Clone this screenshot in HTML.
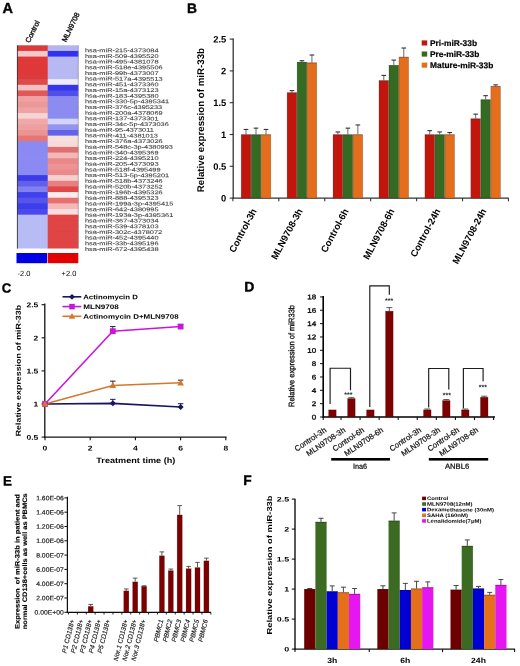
<!DOCTYPE html>
<html><head><meta charset="utf-8"><title>Figure</title>
<style>
html,body{margin:0;padding:0;background:#fff;}
body{width:520px;height:666px;overflow:hidden;}
svg{display:block;font-family:"Liberation Sans", sans-serif;text-rendering:geometricPrecision;}
</style></head>
<body>
<svg width="520" height="666" viewBox="0 0 520 666">
<defs><filter id="soft" x="0" y="0" width="520" height="666" filterUnits="userSpaceOnUse"><feGaussianBlur stdDeviation="0.45"/></filter></defs>
<rect x="0" y="0" width="520" height="666" fill="#fff"/>
<g filter="url(#soft)">
<text x="0" y="0" font-size="14.5" font-weight="bold" text-anchor="start" fill="#000" transform="translate(2.50 13.00) skewY(0.05)" stroke="#000" stroke-width="0.35">A</text>
<text x="0" y="0" font-size="7.3" text-anchor="start" fill="#111" transform="translate(29.60 43.30) rotate(-64) skewY(0.05)" stroke="#111" stroke-width="0.35">Control</text>
<text x="0" y="0" font-size="7.3" text-anchor="start" fill="#111" transform="translate(66.00 42.60) rotate(-64) skewY(0.05)" stroke="#111" stroke-width="0.35">MLN9708</text>
<rect x="17.00" y="45.30" width="31.30" height="6.34" fill="#dd3a3a"/>
<rect x="47.70" y="45.30" width="30.80" height="6.34" fill="#b4b4f0"/>
<rect x="17.00" y="50.94" width="31.30" height="6.34" fill="#f4c8c8"/>
<rect x="47.70" y="50.94" width="30.80" height="6.34" fill="#3030ee"/>
<rect x="17.00" y="56.59" width="31.30" height="6.34" fill="#e03838"/>
<rect x="47.70" y="56.59" width="30.80" height="6.34" fill="#b8b8f2"/>
<rect x="17.00" y="62.23" width="31.30" height="6.34" fill="#e03838"/>
<rect x="47.70" y="62.23" width="30.80" height="6.34" fill="#b8b8f2"/>
<rect x="17.00" y="67.88" width="31.30" height="6.34" fill="#e03838"/>
<rect x="47.70" y="67.88" width="30.80" height="6.34" fill="#b8b8f2"/>
<rect x="17.00" y="73.52" width="31.30" height="6.34" fill="#dc3a3a"/>
<rect x="47.70" y="73.52" width="30.80" height="6.34" fill="#b8b8f2"/>
<rect x="17.00" y="79.17" width="31.30" height="6.34" fill="#de4848"/>
<rect x="47.70" y="79.17" width="30.80" height="6.34" fill="#ececfc"/>
<rect x="17.00" y="84.81" width="31.30" height="6.34" fill="#f2c0c0"/>
<rect x="47.70" y="84.81" width="30.80" height="6.34" fill="#3434ee"/>
<rect x="17.00" y="90.46" width="31.30" height="6.34" fill="#e05858"/>
<rect x="47.70" y="90.46" width="30.80" height="6.34" fill="#5050ea"/>
<rect x="17.00" y="96.10" width="31.30" height="6.34" fill="#eea2a2"/>
<rect x="47.70" y="96.10" width="30.80" height="6.34" fill="#8c8cf0"/>
<rect x="17.00" y="101.75" width="31.30" height="6.34" fill="#eb9898"/>
<rect x="47.70" y="101.75" width="30.80" height="6.34" fill="#8c8cf0"/>
<rect x="17.00" y="107.39" width="31.30" height="6.34" fill="#eea4a4"/>
<rect x="47.70" y="107.39" width="30.80" height="6.34" fill="#8c8cf0"/>
<rect x="17.00" y="113.04" width="31.30" height="6.34" fill="#f6d4d4"/>
<rect x="47.70" y="113.04" width="30.80" height="6.34" fill="#8c8cf0"/>
<rect x="17.00" y="118.68" width="31.30" height="6.34" fill="#f0a8a8"/>
<rect x="47.70" y="118.68" width="30.80" height="6.34" fill="#d4d4f8"/>
<rect x="17.00" y="124.33" width="31.30" height="6.34" fill="#eea0a0"/>
<rect x="47.70" y="124.33" width="30.80" height="6.34" fill="#9494f0"/>
<rect x="17.00" y="129.97" width="31.30" height="6.34" fill="#ec9494"/>
<rect x="47.70" y="129.97" width="30.80" height="6.34" fill="#6464ea"/>
<rect x="17.00" y="135.62" width="31.30" height="6.34" fill="#e87474"/>
<rect x="47.70" y="135.62" width="30.80" height="6.34" fill="#f8e0dc"/>
<rect x="17.00" y="141.26" width="31.30" height="6.34" fill="#8a8af2"/>
<rect x="47.70" y="141.26" width="30.80" height="6.34" fill="#f6dcd8"/>
<rect x="17.00" y="146.91" width="31.30" height="6.34" fill="#8a8af2"/>
<rect x="47.70" y="146.91" width="30.80" height="6.34" fill="#e07070"/>
<rect x="17.00" y="152.56" width="31.30" height="6.34" fill="#8a8af2"/>
<rect x="47.70" y="152.56" width="30.80" height="6.34" fill="#f2b8b8"/>
<rect x="17.00" y="158.20" width="31.30" height="6.34" fill="#8a8af2"/>
<rect x="47.70" y="158.20" width="30.80" height="6.34" fill="#ea8888"/>
<rect x="17.00" y="163.84" width="31.30" height="6.34" fill="#8a8af2"/>
<rect x="47.70" y="163.84" width="30.80" height="6.34" fill="#ec9494"/>
<rect x="17.00" y="169.49" width="31.30" height="6.34" fill="#8a8af2"/>
<rect x="47.70" y="169.49" width="30.80" height="6.34" fill="#ea8a8a"/>
<rect x="17.00" y="175.13" width="31.30" height="6.34" fill="#3a3ae8"/>
<rect x="47.70" y="175.13" width="30.80" height="6.34" fill="#f6d0d0"/>
<rect x="17.00" y="180.78" width="31.30" height="6.34" fill="#6060ec"/>
<rect x="47.70" y="180.78" width="30.80" height="6.34" fill="#e88080"/>
<rect x="17.00" y="186.43" width="31.30" height="6.34" fill="#8080f0"/>
<rect x="47.70" y="186.43" width="30.80" height="6.34" fill="#e04848"/>
<rect x="17.00" y="192.07" width="31.30" height="6.34" fill="#4040ec"/>
<rect x="47.70" y="192.07" width="30.80" height="6.34" fill="#fcecec"/>
<rect x="17.00" y="197.71" width="31.30" height="6.34" fill="#5454ec"/>
<rect x="47.70" y="197.71" width="30.80" height="6.34" fill="#e87070"/>
<rect x="17.00" y="203.36" width="31.30" height="6.34" fill="#3c3cec"/>
<rect x="47.70" y="203.36" width="30.80" height="6.34" fill="#f4b8b8"/>
<rect x="17.00" y="209.00" width="31.30" height="6.34" fill="#4848ec"/>
<rect x="47.70" y="209.00" width="30.80" height="6.34" fill="#f8dede"/>
<rect x="17.00" y="214.65" width="31.30" height="6.34" fill="#b8bcf4"/>
<rect x="47.70" y="214.65" width="30.80" height="6.34" fill="#e04444"/>
<rect x="17.00" y="220.29" width="31.30" height="6.34" fill="#b8bcf4"/>
<rect x="47.70" y="220.29" width="30.80" height="6.34" fill="#e04444"/>
<rect x="17.00" y="225.94" width="31.30" height="6.34" fill="#b8bcf4"/>
<rect x="47.70" y="225.94" width="30.80" height="6.34" fill="#e04444"/>
<rect x="17.00" y="231.58" width="31.30" height="6.34" fill="#b8bcf4"/>
<rect x="47.70" y="231.58" width="30.80" height="6.34" fill="#e04444"/>
<rect x="17.00" y="237.23" width="31.30" height="6.34" fill="#b8bcf4"/>
<rect x="47.70" y="237.23" width="30.80" height="6.34" fill="#e04444"/>
<rect x="17.00" y="242.88" width="31.30" height="5.64" fill="#b8bcf4"/>
<rect x="47.70" y="242.88" width="30.80" height="5.64" fill="#e04444"/>
<line x1="17.40" y1="45.30" x2="17.40" y2="248.52" stroke="#333" stroke-width="0.9"/>
<line x1="78.20" y1="45.30" x2="78.20" y2="248.52" stroke="#888" stroke-width="0.6"/>
<text x="0" y="0" font-size="5.4" text-anchor="start" fill="#383838" transform="translate(85.00 52.20) skewY(0.05) scale(1.370 1)" stroke="#383838" stroke-width="0.08">hsa-miR-215-4373084</text>
<text x="0" y="0" font-size="5.4" text-anchor="start" fill="#383838" transform="translate(85.00 57.88) skewY(0.05) scale(1.370 1)" stroke="#383838" stroke-width="0.08">hsa-miR-509-4395520</text>
<text x="0" y="0" font-size="5.4" text-anchor="start" fill="#383838" transform="translate(85.00 63.55) skewY(0.05) scale(1.370 1)" stroke="#383838" stroke-width="0.08">hsa-miR-495-4381078</text>
<text x="0" y="0" font-size="5.4" text-anchor="start" fill="#383838" transform="translate(85.00 69.23) skewY(0.05) scale(1.370 1)" stroke="#383838" stroke-width="0.08">hsa-miR-518e-4395506</text>
<text x="0" y="0" font-size="5.4" text-anchor="start" fill="#383838" transform="translate(85.00 74.91) skewY(0.05) scale(1.370 1)" stroke="#383838" stroke-width="0.08">hsa-miR-99b-4373007</text>
<text x="0" y="0" font-size="5.4" text-anchor="start" fill="#383838" transform="translate(85.00 80.59) skewY(0.05) scale(1.370 1)" stroke="#383838" stroke-width="0.08">hsa-miR-517a-4395513</text>
<text x="0" y="0" font-size="5.4" text-anchor="start" fill="#383838" transform="translate(85.00 86.26) skewY(0.05) scale(1.370 1)" stroke="#383838" stroke-width="0.08">hsa-miR-451-4373360</text>
<text x="0" y="0" font-size="5.4" text-anchor="start" fill="#383838" transform="translate(85.00 91.94) skewY(0.05) scale(1.370 1)" stroke="#383838" stroke-width="0.08">hsa-miR-15a-4373123</text>
<text x="0" y="0" font-size="5.4" text-anchor="start" fill="#383838" transform="translate(85.00 97.62) skewY(0.05) scale(1.370 1)" stroke="#383838" stroke-width="0.08">hsa-miR-183-4395380</text>
<text x="0" y="0" font-size="5.4" text-anchor="start" fill="#383838" transform="translate(85.00 103.29) skewY(0.05) scale(1.370 1)" stroke="#383838" stroke-width="0.08">hsa-miR-330-5p-4395341</text>
<text x="0" y="0" font-size="5.4" text-anchor="start" fill="#383838" transform="translate(85.00 108.97) skewY(0.05) scale(1.370 1)" stroke="#383838" stroke-width="0.08">hsa-miR-376c-4395233</text>
<text x="0" y="0" font-size="5.4" text-anchor="start" fill="#383838" transform="translate(85.00 114.65) skewY(0.05) scale(1.370 1)" stroke="#383838" stroke-width="0.08">hsa-miR-200a-4378069</text>
<text x="0" y="0" font-size="5.4" text-anchor="start" fill="#383838" transform="translate(85.00 120.32) skewY(0.05) scale(1.370 1)" stroke="#383838" stroke-width="0.08">hsa-miR-137-4373301</text>
<text x="0" y="0" font-size="5.4" text-anchor="start" fill="#383838" transform="translate(85.00 126.00) skewY(0.05) scale(1.370 1)" stroke="#383838" stroke-width="0.08">hsa-miR-34c-5p-4373036</text>
<text x="0" y="0" font-size="5.4" text-anchor="start" fill="#383838" transform="translate(85.00 131.68) skewY(0.05) scale(1.370 1)" stroke="#383838" stroke-width="0.08">hsa-miR-95-4373011</text>
<text x="0" y="0" font-size="5.4" text-anchor="start" fill="#383838" transform="translate(85.00 137.36) skewY(0.05) scale(1.370 1)" stroke="#383838" stroke-width="0.08">hsa-miR-411-4381013</text>
<text x="0" y="0" font-size="5.4" text-anchor="start" fill="#383838" transform="translate(85.00 143.03) skewY(0.05) scale(1.370 1)" stroke="#383838" stroke-width="0.08">hsa-miR-376a-4373026</text>
<text x="0" y="0" font-size="5.4" text-anchor="start" fill="#383838" transform="translate(85.00 148.71) skewY(0.05) scale(1.370 1)" stroke="#383838" stroke-width="0.08">hsa-miR-548c-3p-4380993</text>
<text x="0" y="0" font-size="5.4" text-anchor="start" fill="#383838" transform="translate(85.00 154.39) skewY(0.05) scale(1.370 1)" stroke="#383838" stroke-width="0.08">hsa-miR-340-4395369</text>
<text x="0" y="0" font-size="5.4" text-anchor="start" fill="#383838" transform="translate(85.00 160.06) skewY(0.05) scale(1.370 1)" stroke="#383838" stroke-width="0.08">hsa-miR-224-4395210</text>
<text x="0" y="0" font-size="5.4" text-anchor="start" fill="#383838" transform="translate(85.00 165.74) skewY(0.05) scale(1.370 1)" stroke="#383838" stroke-width="0.08">hsa-miR-205-4373093</text>
<text x="0" y="0" font-size="5.4" text-anchor="start" fill="#383838" transform="translate(85.00 171.42) skewY(0.05) scale(1.370 1)" stroke="#383838" stroke-width="0.08">hsa-miR-518f-4395499</text>
<text x="0" y="0" font-size="5.4" text-anchor="start" fill="#383838" transform="translate(85.00 177.09) skewY(0.05) scale(1.370 1)" stroke="#383838" stroke-width="0.08">hsa-miR-513-5p-4395201</text>
<text x="0" y="0" font-size="5.4" text-anchor="start" fill="#383838" transform="translate(85.00 182.77) skewY(0.05) scale(1.370 1)" stroke="#383838" stroke-width="0.08">hsa-miR-518b-4373246</text>
<text x="0" y="0" font-size="5.4" text-anchor="start" fill="#383838" transform="translate(85.00 188.45) skewY(0.05) scale(1.370 1)" stroke="#383838" stroke-width="0.08">hsa-miR-520b-4373252</text>
<text x="0" y="0" font-size="5.4" text-anchor="start" fill="#383838" transform="translate(85.00 194.12) skewY(0.05) scale(1.370 1)" stroke="#383838" stroke-width="0.08">hsa-miR-196b-4395326</text>
<text x="0" y="0" font-size="5.4" text-anchor="start" fill="#383838" transform="translate(85.00 199.80) skewY(0.05) scale(1.370 1)" stroke="#383838" stroke-width="0.08">hsa-miR-888-4395323</text>
<text x="0" y="0" font-size="5.4" text-anchor="start" fill="#383838" transform="translate(85.00 205.48) skewY(0.05) scale(1.370 1)" stroke="#383838" stroke-width="0.08">hsa-miR-199a-3p-4395415</text>
<text x="0" y="0" font-size="5.4" text-anchor="start" fill="#383838" transform="translate(85.00 211.16) skewY(0.05) scale(1.370 1)" stroke="#383838" stroke-width="0.08">hsa-miR-642-4380995</text>
<text x="0" y="0" font-size="5.4" text-anchor="start" fill="#383838" transform="translate(85.00 216.83) skewY(0.05) scale(1.370 1)" stroke="#383838" stroke-width="0.08">hsa-miR-193a-3p-4395361</text>
<text x="0" y="0" font-size="5.4" text-anchor="start" fill="#383838" transform="translate(85.00 222.51) skewY(0.05) scale(1.370 1)" stroke="#383838" stroke-width="0.08">hsa-miR-367-4373034</text>
<text x="0" y="0" font-size="5.4" text-anchor="start" fill="#383838" transform="translate(85.00 228.19) skewY(0.05) scale(1.370 1)" stroke="#383838" stroke-width="0.08">hsa-miR-539-4378103</text>
<text x="0" y="0" font-size="5.4" text-anchor="start" fill="#383838" transform="translate(85.00 233.86) skewY(0.05) scale(1.370 1)" stroke="#383838" stroke-width="0.08">hsa-miR-302c-4378072</text>
<text x="0" y="0" font-size="5.4" text-anchor="start" fill="#383838" transform="translate(85.00 239.54) skewY(0.05) scale(1.370 1)" stroke="#383838" stroke-width="0.08">hsa-miR-452-4395440</text>
<text x="0" y="0" font-size="5.4" text-anchor="start" fill="#383838" transform="translate(85.00 245.22) skewY(0.05) scale(1.370 1)" stroke="#383838" stroke-width="0.08">hsa-miR-33b-4395196</text>
<text x="0" y="0" font-size="5.4" text-anchor="start" fill="#383838" transform="translate(85.00 250.89) skewY(0.05) scale(1.370 1)" stroke="#383838" stroke-width="0.08">hsa-miR-672-4395438</text>
<rect x="16.50" y="253.00" width="30.60" height="10.20" fill="#0000e2"/>
<rect x="47.70" y="253.00" width="30.60" height="10.20" fill="#e20000"/>
<text x="0" y="0" font-size="7.5" text-anchor="start" fill="#000" transform="translate(17.50 275.90) skewY(0.05)">-2.0</text>
<text x="0" y="0" font-size="7.5" text-anchor="start" fill="#000" transform="translate(61.50 275.90) skewY(0.05)">+2.0</text>
<text x="0" y="0" font-size="13.8" font-weight="bold" text-anchor="start" fill="#000" transform="translate(187.00 13.00) skewY(0.05)" stroke="#000" stroke-width="0.35">B</text>
<line x1="233.20" y1="38.50" x2="233.20" y2="198.70" stroke="#333" stroke-width="1.3"/>
<line x1="232.60" y1="198.10" x2="508.80" y2="198.10" stroke="#333" stroke-width="1.3"/>
<line x1="229.70" y1="198.10" x2="233.20" y2="198.10" stroke="#333" stroke-width="1.1"/>
<text x="0" y="0" font-size="9.4" font-weight="bold" text-anchor="end" fill="#000" transform="translate(226.30 201.50) skewY(0.05)">0</text>
<line x1="229.70" y1="166.30" x2="233.20" y2="166.30" stroke="#333" stroke-width="1.1"/>
<text x="0" y="0" font-size="9.4" font-weight="bold" text-anchor="end" fill="#000" transform="translate(226.30 169.70) skewY(0.05)">0.5</text>
<line x1="229.70" y1="134.50" x2="233.20" y2="134.50" stroke="#333" stroke-width="1.1"/>
<text x="0" y="0" font-size="9.4" font-weight="bold" text-anchor="end" fill="#000" transform="translate(226.30 137.90) skewY(0.05)">1</text>
<line x1="229.70" y1="102.70" x2="233.20" y2="102.70" stroke="#333" stroke-width="1.1"/>
<text x="0" y="0" font-size="9.4" font-weight="bold" text-anchor="end" fill="#000" transform="translate(226.30 106.10) skewY(0.05)">1.5</text>
<line x1="229.70" y1="70.90" x2="233.20" y2="70.90" stroke="#333" stroke-width="1.1"/>
<text x="0" y="0" font-size="9.4" font-weight="bold" text-anchor="end" fill="#000" transform="translate(226.30 74.30) skewY(0.05)">2</text>
<line x1="229.70" y1="39.10" x2="233.20" y2="39.10" stroke="#333" stroke-width="1.1"/>
<text x="0" y="0" font-size="9.4" font-weight="bold" text-anchor="end" fill="#000" transform="translate(226.30 42.50) skewY(0.05)">2.5</text>
<line x1="232.90" y1="198.10" x2="232.90" y2="201.30" stroke="#333" stroke-width="1.1"/>
<line x1="278.83" y1="198.10" x2="278.83" y2="201.30" stroke="#333" stroke-width="1.1"/>
<line x1="324.76" y1="198.10" x2="324.76" y2="201.30" stroke="#333" stroke-width="1.1"/>
<line x1="370.69" y1="198.10" x2="370.69" y2="201.30" stroke="#333" stroke-width="1.1"/>
<line x1="416.62" y1="198.10" x2="416.62" y2="201.30" stroke="#333" stroke-width="1.1"/>
<line x1="462.55" y1="198.10" x2="462.55" y2="201.30" stroke="#333" stroke-width="1.1"/>
<line x1="508.48" y1="198.10" x2="508.48" y2="201.30" stroke="#333" stroke-width="1.1"/>
<text x="0" y="0" font-size="9.72" font-weight="bold" text-anchor="middle" fill="#000" transform="translate(204.00 120.10) rotate(-90) skewY(0.05)">Relative expression of miR-33b</text>
<rect x="241.20" y="134.70" width="9.60" height="63.40" fill="#c2160f" stroke="#000" stroke-opacity="0.3" stroke-width="0.6"/>
<line x1="241.00" y1="134.80" x2="251.00" y2="134.80" stroke="#000" stroke-width="0.7" stroke-opacity="0.3"/>
<line x1="246.00" y1="134.50" x2="246.00" y2="129.41" stroke="#444" stroke-width="0.8"/>
<line x1="243.70" y1="129.41" x2="248.30" y2="129.41" stroke="#222" stroke-width="1.0"/>
<rect x="251.20" y="134.70" width="9.60" height="63.40" fill="#346a24" stroke="#000" stroke-opacity="0.3" stroke-width="0.6"/>
<line x1="251.00" y1="134.80" x2="261.00" y2="134.80" stroke="#000" stroke-width="0.7" stroke-opacity="0.3"/>
<line x1="256.00" y1="134.50" x2="256.00" y2="128.14" stroke="#444" stroke-width="0.8"/>
<line x1="253.70" y1="128.14" x2="258.30" y2="128.14" stroke="#222" stroke-width="1.0"/>
<rect x="261.20" y="134.70" width="9.60" height="63.40" fill="#e46e1c" stroke="#000" stroke-opacity="0.3" stroke-width="0.6"/>
<line x1="261.00" y1="134.80" x2="271.00" y2="134.80" stroke="#000" stroke-width="0.7" stroke-opacity="0.3"/>
<line x1="266.00" y1="134.50" x2="266.00" y2="129.41" stroke="#444" stroke-width="0.8"/>
<line x1="263.70" y1="129.41" x2="268.30" y2="129.41" stroke="#222" stroke-width="1.0"/>
<rect x="287.13" y="92.72" width="9.60" height="105.38" fill="#c2160f" stroke="#000" stroke-opacity="0.3" stroke-width="0.6"/>
<line x1="286.93" y1="92.82" x2="296.93" y2="92.82" stroke="#000" stroke-width="0.7" stroke-opacity="0.3"/>
<line x1="291.93" y1="92.52" x2="291.93" y2="90.62" stroke="#444" stroke-width="0.8"/>
<line x1="289.63" y1="90.62" x2="294.23" y2="90.62" stroke="#222" stroke-width="1.0"/>
<rect x="297.13" y="62.20" width="9.60" height="135.90" fill="#346a24" stroke="#000" stroke-opacity="0.3" stroke-width="0.6"/>
<line x1="296.93" y1="62.30" x2="306.93" y2="62.30" stroke="#000" stroke-width="0.7" stroke-opacity="0.3"/>
<line x1="301.93" y1="62.00" x2="301.93" y2="60.72" stroke="#444" stroke-width="0.8"/>
<line x1="299.63" y1="60.72" x2="304.23" y2="60.72" stroke="#222" stroke-width="1.0"/>
<rect x="307.13" y="62.83" width="9.60" height="135.27" fill="#e46e1c" stroke="#000" stroke-opacity="0.3" stroke-width="0.6"/>
<line x1="306.93" y1="62.93" x2="316.93" y2="62.93" stroke="#000" stroke-width="0.7" stroke-opacity="0.3"/>
<line x1="311.93" y1="62.63" x2="311.93" y2="55.00" stroke="#444" stroke-width="0.8"/>
<line x1="309.63" y1="55.00" x2="314.23" y2="55.00" stroke="#222" stroke-width="1.0"/>
<rect x="333.06" y="134.70" width="9.60" height="63.40" fill="#c2160f" stroke="#000" stroke-opacity="0.3" stroke-width="0.6"/>
<line x1="332.86" y1="134.80" x2="342.86" y2="134.80" stroke="#000" stroke-width="0.7" stroke-opacity="0.3"/>
<line x1="337.86" y1="134.50" x2="337.86" y2="131.96" stroke="#444" stroke-width="0.8"/>
<line x1="335.56" y1="131.96" x2="340.16" y2="131.96" stroke="#222" stroke-width="1.0"/>
<rect x="343.06" y="134.70" width="9.60" height="63.40" fill="#346a24" stroke="#000" stroke-opacity="0.3" stroke-width="0.6"/>
<line x1="342.86" y1="134.80" x2="352.86" y2="134.80" stroke="#000" stroke-width="0.7" stroke-opacity="0.3"/>
<line x1="347.86" y1="134.50" x2="347.86" y2="128.14" stroke="#444" stroke-width="0.8"/>
<line x1="345.56" y1="128.14" x2="350.16" y2="128.14" stroke="#222" stroke-width="1.0"/>
<rect x="353.06" y="134.70" width="9.60" height="63.40" fill="#e46e1c" stroke="#000" stroke-opacity="0.3" stroke-width="0.6"/>
<line x1="352.86" y1="134.80" x2="362.86" y2="134.80" stroke="#000" stroke-width="0.7" stroke-opacity="0.3"/>
<line x1="357.86" y1="134.50" x2="357.86" y2="124.96" stroke="#444" stroke-width="0.8"/>
<line x1="355.56" y1="124.96" x2="360.16" y2="124.96" stroke="#222" stroke-width="1.0"/>
<rect x="378.99" y="80.64" width="9.60" height="117.46" fill="#c2160f" stroke="#000" stroke-opacity="0.3" stroke-width="0.6"/>
<line x1="378.79" y1="80.74" x2="388.79" y2="80.74" stroke="#000" stroke-width="0.7" stroke-opacity="0.3"/>
<line x1="383.79" y1="80.44" x2="383.79" y2="75.35" stroke="#444" stroke-width="0.8"/>
<line x1="381.49" y1="75.35" x2="386.09" y2="75.35" stroke="#222" stroke-width="1.0"/>
<rect x="388.99" y="65.38" width="9.60" height="132.72" fill="#346a24" stroke="#000" stroke-opacity="0.3" stroke-width="0.6"/>
<line x1="388.79" y1="65.48" x2="398.79" y2="65.48" stroke="#000" stroke-width="0.7" stroke-opacity="0.3"/>
<line x1="393.79" y1="65.18" x2="393.79" y2="60.09" stroke="#444" stroke-width="0.8"/>
<line x1="391.49" y1="60.09" x2="396.09" y2="60.09" stroke="#222" stroke-width="1.0"/>
<rect x="398.99" y="57.11" width="9.60" height="140.99" fill="#e46e1c" stroke="#000" stroke-opacity="0.3" stroke-width="0.6"/>
<line x1="398.79" y1="57.21" x2="408.79" y2="57.21" stroke="#000" stroke-width="0.7" stroke-opacity="0.3"/>
<line x1="403.79" y1="56.91" x2="403.79" y2="48.00" stroke="#444" stroke-width="0.8"/>
<line x1="401.49" y1="48.00" x2="406.09" y2="48.00" stroke="#222" stroke-width="1.0"/>
<rect x="424.92" y="134.70" width="9.60" height="63.40" fill="#c2160f" stroke="#000" stroke-opacity="0.3" stroke-width="0.6"/>
<line x1="424.72" y1="134.80" x2="434.72" y2="134.80" stroke="#000" stroke-width="0.7" stroke-opacity="0.3"/>
<line x1="429.72" y1="134.50" x2="429.72" y2="130.68" stroke="#444" stroke-width="0.8"/>
<line x1="427.42" y1="130.68" x2="432.02" y2="130.68" stroke="#222" stroke-width="1.0"/>
<rect x="434.92" y="134.70" width="9.60" height="63.40" fill="#346a24" stroke="#000" stroke-opacity="0.3" stroke-width="0.6"/>
<line x1="434.72" y1="134.80" x2="444.72" y2="134.80" stroke="#000" stroke-width="0.7" stroke-opacity="0.3"/>
<line x1="439.72" y1="134.50" x2="439.72" y2="131.96" stroke="#444" stroke-width="0.8"/>
<line x1="437.42" y1="131.96" x2="442.02" y2="131.96" stroke="#222" stroke-width="1.0"/>
<rect x="444.92" y="134.70" width="9.60" height="63.40" fill="#e46e1c" stroke="#000" stroke-opacity="0.3" stroke-width="0.6"/>
<line x1="444.72" y1="134.80" x2="454.72" y2="134.80" stroke="#000" stroke-width="0.7" stroke-opacity="0.3"/>
<line x1="449.72" y1="134.50" x2="449.72" y2="132.59" stroke="#444" stroke-width="0.8"/>
<line x1="447.42" y1="132.59" x2="452.02" y2="132.59" stroke="#222" stroke-width="1.0"/>
<rect x="470.85" y="118.80" width="9.60" height="79.30" fill="#c2160f" stroke="#000" stroke-opacity="0.3" stroke-width="0.6"/>
<line x1="470.65" y1="118.90" x2="480.65" y2="118.90" stroke="#000" stroke-width="0.7" stroke-opacity="0.3"/>
<line x1="475.65" y1="118.60" x2="475.65" y2="114.15" stroke="#444" stroke-width="0.8"/>
<line x1="473.35" y1="114.15" x2="477.95" y2="114.15" stroke="#222" stroke-width="1.0"/>
<rect x="480.85" y="99.72" width="9.60" height="98.38" fill="#346a24" stroke="#000" stroke-opacity="0.3" stroke-width="0.6"/>
<line x1="480.65" y1="99.82" x2="490.65" y2="99.82" stroke="#000" stroke-width="0.7" stroke-opacity="0.3"/>
<line x1="485.65" y1="99.52" x2="485.65" y2="95.70" stroke="#444" stroke-width="0.8"/>
<line x1="483.35" y1="95.70" x2="487.95" y2="95.70" stroke="#222" stroke-width="1.0"/>
<rect x="490.85" y="86.36" width="9.60" height="111.74" fill="#e46e1c" stroke="#000" stroke-opacity="0.3" stroke-width="0.6"/>
<line x1="490.65" y1="86.46" x2="500.65" y2="86.46" stroke="#000" stroke-width="0.7" stroke-opacity="0.3"/>
<line x1="495.65" y1="86.16" x2="495.65" y2="84.89" stroke="#444" stroke-width="0.8"/>
<line x1="493.35" y1="84.89" x2="497.95" y2="84.89" stroke="#222" stroke-width="1.0"/>
<text x="0" y="0" font-size="9.5" font-weight="bold" text-anchor="end" fill="#000" transform="translate(257.00 210.80) rotate(-62) skewY(0.05)">Control-3h</text>
<text x="0" y="0" font-size="9.5" font-weight="bold" text-anchor="end" fill="#000" transform="translate(302.93 210.80) rotate(-62) skewY(0.05)">MLN9708-3h</text>
<text x="0" y="0" font-size="9.5" font-weight="bold" text-anchor="end" fill="#000" transform="translate(348.86 210.80) rotate(-62) skewY(0.05)">Control-6h</text>
<text x="0" y="0" font-size="9.5" font-weight="bold" text-anchor="end" fill="#000" transform="translate(394.79 210.80) rotate(-62) skewY(0.05)">MLN9708-6h</text>
<text x="0" y="0" font-size="9.5" font-weight="bold" text-anchor="end" fill="#000" transform="translate(440.72 210.80) rotate(-62) skewY(0.05)">Control-24h</text>
<text x="0" y="0" font-size="9.5" font-weight="bold" text-anchor="end" fill="#000" transform="translate(486.65 210.80) rotate(-62) skewY(0.05)">MLN9708-24h</text>
<rect x="421.70" y="40.40" width="5.50" height="5.10" fill="#c2160f"/>
<text x="0" y="0" font-size="8.4" font-weight="bold" text-anchor="start" fill="#000" transform="translate(430.00 45.90) skewY(0.05)" stroke="#000" stroke-width="0.2">Pri-miR-33b</text>
<rect x="421.70" y="51.50" width="5.50" height="5.10" fill="#346a24"/>
<text x="0" y="0" font-size="8.4" font-weight="bold" text-anchor="start" fill="#000" transform="translate(430.00 57.00) skewY(0.05)" stroke="#000" stroke-width="0.2">Pre-miR-33b</text>
<rect x="421.70" y="62.60" width="5.50" height="5.10" fill="#e46e1c"/>
<text x="0" y="0" font-size="8.4" font-weight="bold" text-anchor="start" fill="#000" transform="translate(430.00 68.10) skewY(0.05)" stroke="#000" stroke-width="0.2">Mature-miR-33b</text>
<text x="0" y="0" font-size="13.2" font-weight="bold" text-anchor="start" fill="#000" transform="translate(1.80 292.40) skewY(0.05)" stroke="#000" stroke-width="0.35">C</text>
<line x1="44.80" y1="303.50" x2="44.80" y2="437.70" stroke="#111" stroke-width="1.3"/>
<line x1="44.20" y1="437.10" x2="226.50" y2="437.10" stroke="#111" stroke-width="1.3"/>
<line x1="41.60" y1="437.10" x2="44.80" y2="437.10" stroke="#111" stroke-width="1.1"/>
<text x="0" y="0" font-size="7.0" font-weight="bold" text-anchor="end" fill="#000" transform="translate(38.30 439.70) skewY(0.05) scale(1.220 1)">0.5</text>
<line x1="41.60" y1="404.00" x2="44.80" y2="404.00" stroke="#111" stroke-width="1.1"/>
<text x="0" y="0" font-size="7.0" font-weight="bold" text-anchor="end" fill="#000" transform="translate(38.30 406.60) skewY(0.05) scale(1.220 1)">1</text>
<line x1="41.60" y1="370.90" x2="44.80" y2="370.90" stroke="#111" stroke-width="1.1"/>
<text x="0" y="0" font-size="7.0" font-weight="bold" text-anchor="end" fill="#000" transform="translate(38.30 373.50) skewY(0.05) scale(1.220 1)">1.5</text>
<line x1="41.60" y1="337.80" x2="44.80" y2="337.80" stroke="#111" stroke-width="1.1"/>
<text x="0" y="0" font-size="7.0" font-weight="bold" text-anchor="end" fill="#000" transform="translate(38.30 340.40) skewY(0.05) scale(1.220 1)">2</text>
<line x1="41.60" y1="304.70" x2="44.80" y2="304.70" stroke="#111" stroke-width="1.1"/>
<text x="0" y="0" font-size="7.0" font-weight="bold" text-anchor="end" fill="#000" transform="translate(38.30 307.30) skewY(0.05) scale(1.220 1)">2.5</text>
<line x1="45.00" y1="437.10" x2="45.00" y2="440.30" stroke="#111" stroke-width="1.1"/>
<text x="0" y="0" font-size="7.0" font-weight="bold" text-anchor="middle" fill="#000" transform="translate(45.00 450.60) skewY(0.05) scale(1.220 1)">0</text>
<line x1="90.20" y1="437.10" x2="90.20" y2="440.30" stroke="#111" stroke-width="1.1"/>
<text x="0" y="0" font-size="7.0" font-weight="bold" text-anchor="middle" fill="#000" transform="translate(90.20 450.60) skewY(0.05) scale(1.220 1)">2</text>
<line x1="135.40" y1="437.10" x2="135.40" y2="440.30" stroke="#111" stroke-width="1.1"/>
<text x="0" y="0" font-size="7.0" font-weight="bold" text-anchor="middle" fill="#000" transform="translate(135.40 450.60) skewY(0.05) scale(1.220 1)">4</text>
<line x1="180.60" y1="437.10" x2="180.60" y2="440.30" stroke="#111" stroke-width="1.1"/>
<text x="0" y="0" font-size="7.0" font-weight="bold" text-anchor="middle" fill="#000" transform="translate(180.60 450.60) skewY(0.05) scale(1.220 1)">6</text>
<line x1="225.80" y1="437.10" x2="225.80" y2="440.30" stroke="#111" stroke-width="1.1"/>
<text x="0" y="0" font-size="7.0" font-weight="bold" text-anchor="middle" fill="#000" transform="translate(225.80 450.60) skewY(0.05) scale(1.220 1)">8</text>
<text x="0" y="0" font-size="7.8" font-weight="bold" text-anchor="middle" fill="#000" transform="translate(135.80 463.00) skewY(0.05) scale(1.170 1)">Treatment time (h)</text>
<text x="0" y="0" font-size="7.2" font-weight="bold" text-anchor="middle" fill="#000" transform="translate(20.70 370.60) rotate(-90) skewY(0.05) scale(1.232 1)">Relative expression of miR-33b</text>
<path d="M45.00 404.00 L112.80 403.34 L180.60 406.98" fill="none" stroke="#16165e" stroke-width="1.6"/>
<line x1="112.80" y1="399.37" x2="112.80" y2="403.34" stroke="#16165e" stroke-width="0.9"/>
<line x1="110.10" y1="399.37" x2="115.50" y2="399.37" stroke="#16165e" stroke-width="1.0"/>
<line x1="180.60" y1="403.67" x2="180.60" y2="406.98" stroke="#16165e" stroke-width="0.9"/>
<line x1="177.90" y1="403.67" x2="183.30" y2="403.67" stroke="#16165e" stroke-width="1.0"/>
<path d="M45.00 404.00 L112.80 331.18 L180.60 326.55" fill="none" stroke="#c818d8" stroke-width="1.6"/>
<line x1="112.80" y1="326.55" x2="112.80" y2="331.18" stroke="#222" stroke-width="0.9"/>
<line x1="110.10" y1="326.55" x2="115.50" y2="326.55" stroke="#222" stroke-width="1.0"/>
<line x1="180.60" y1="324.56" x2="180.60" y2="326.55" stroke="#222" stroke-width="0.9"/>
<line x1="177.90" y1="324.56" x2="183.30" y2="324.56" stroke="#222" stroke-width="1.0"/>
<path d="M45.00 404.00 L112.80 385.46 L180.60 382.82" fill="none" stroke="#d4782e" stroke-width="1.6"/>
<line x1="112.80" y1="381.16" x2="112.80" y2="385.46" stroke="#222" stroke-width="0.9"/>
<line x1="110.10" y1="381.16" x2="115.50" y2="381.16" stroke="#222" stroke-width="1.0"/>
<line x1="180.60" y1="380.17" x2="180.60" y2="382.82" stroke="#222" stroke-width="0.9"/>
<line x1="177.90" y1="380.17" x2="183.30" y2="380.17" stroke="#222" stroke-width="1.0"/>
<path d="M45.00 401.00 L48.00 404.00 L45.00 407.00 L42.00 404.00Z" fill="#16165e"/>
<path d="M112.80 400.34 L115.80 403.34 L112.80 406.34 L109.80 403.34Z" fill="#16165e"/>
<path d="M180.60 403.98 L183.60 406.98 L180.60 409.98 L177.60 406.98Z" fill="#16165e"/>
<rect x="42.10" y="401.10" width="5.80" height="5.80" fill="#c818d8"/>
<rect x="109.90" y="328.28" width="5.80" height="5.80" fill="#c818d8"/>
<rect x="177.70" y="323.65" width="5.80" height="5.80" fill="#c818d8"/>
<path d="M45.00 400.60 L48.40 406.60 L41.60 406.60Z" fill="#d4782e"/>
<path d="M112.80 382.06 L116.20 388.06 L109.40 388.06Z" fill="#d4782e"/>
<path d="M180.60 379.42 L184.00 385.42 L177.20 385.42Z" fill="#d4782e"/>
<line x1="62.50" y1="296.80" x2="81.30" y2="296.80" stroke="#16165e" stroke-width="1.6"/>
<path d="M72.00 293.95 L74.85 296.80 L72.00 299.65 L69.15 296.80Z" fill="#16165e"/>
<text x="0" y="0" font-size="6.5" font-weight="bold" text-anchor="start" fill="#000" transform="translate(83.20 299.20) skewY(0.05) scale(1.200 1)">Actinomycin D</text>
<line x1="62.50" y1="306.60" x2="81.30" y2="306.60" stroke="#c818d8" stroke-width="1.6"/>
<rect x="69.25" y="303.85" width="5.51" height="5.51" fill="#c818d8"/>
<text x="0" y="0" font-size="6.5" font-weight="bold" text-anchor="start" fill="#000" transform="translate(83.20 309.00) skewY(0.05) scale(1.250 1)">MLN9708</text>
<line x1="62.50" y1="316.30" x2="81.30" y2="316.30" stroke="#d4782e" stroke-width="1.6"/>
<path d="M72.00 313.07 L75.23 318.77 L68.77 318.77Z" fill="#d4782e"/>
<text x="0" y="0" font-size="6.5" font-weight="bold" text-anchor="start" fill="#000" transform="translate(83.20 318.70) skewY(0.05) scale(1.225 1)">Actinomycin D+MLN9708</text>
<text x="0" y="0" font-size="14" font-weight="bold" text-anchor="start" fill="#000" transform="translate(244.20 291.60) skewY(0.05)" stroke="#000" stroke-width="0.35">D</text>
<line x1="323.20" y1="296.00" x2="323.20" y2="417.70" stroke="#000" stroke-width="1.6"/>
<line x1="322.50" y1="417.00" x2="495.00" y2="417.00" stroke="#000" stroke-width="1.6"/>
<line x1="320.00" y1="417.00" x2="323.20" y2="417.00" stroke="#111" stroke-width="1.0"/>
<text x="0" y="0" font-size="6.7" text-anchor="end" fill="#111" transform="translate(316.20 419.40) skewY(0.05) scale(1.200 1)" stroke="#111" stroke-width="0.35">0</text>
<line x1="320.00" y1="403.66" x2="323.20" y2="403.66" stroke="#111" stroke-width="1.0"/>
<text x="0" y="0" font-size="6.7" text-anchor="end" fill="#111" transform="translate(316.20 406.06) skewY(0.05) scale(1.200 1)" stroke="#111" stroke-width="0.35">2</text>
<line x1="320.00" y1="390.32" x2="323.20" y2="390.32" stroke="#111" stroke-width="1.0"/>
<text x="0" y="0" font-size="6.7" text-anchor="end" fill="#111" transform="translate(316.20 392.72) skewY(0.05) scale(1.200 1)" stroke="#111" stroke-width="0.35">4</text>
<line x1="320.00" y1="376.98" x2="323.20" y2="376.98" stroke="#111" stroke-width="1.0"/>
<text x="0" y="0" font-size="6.7" text-anchor="end" fill="#111" transform="translate(316.20 379.38) skewY(0.05) scale(1.200 1)" stroke="#111" stroke-width="0.35">6</text>
<line x1="320.00" y1="363.64" x2="323.20" y2="363.64" stroke="#111" stroke-width="1.0"/>
<text x="0" y="0" font-size="6.7" text-anchor="end" fill="#111" transform="translate(316.20 366.04) skewY(0.05) scale(1.200 1)" stroke="#111" stroke-width="0.35">8</text>
<line x1="320.00" y1="350.30" x2="323.20" y2="350.30" stroke="#111" stroke-width="1.0"/>
<text x="0" y="0" font-size="6.7" text-anchor="end" fill="#111" transform="translate(316.20 352.70) skewY(0.05) scale(1.200 1)" stroke="#111" stroke-width="0.35">10</text>
<line x1="320.00" y1="336.96" x2="323.20" y2="336.96" stroke="#111" stroke-width="1.0"/>
<text x="0" y="0" font-size="6.7" text-anchor="end" fill="#111" transform="translate(316.20 339.36) skewY(0.05) scale(1.200 1)" stroke="#111" stroke-width="0.35">12</text>
<line x1="320.00" y1="323.62" x2="323.20" y2="323.62" stroke="#111" stroke-width="1.0"/>
<text x="0" y="0" font-size="6.7" text-anchor="end" fill="#111" transform="translate(316.20 326.02) skewY(0.05) scale(1.200 1)" stroke="#111" stroke-width="0.35">14</text>
<line x1="320.00" y1="310.28" x2="323.20" y2="310.28" stroke="#111" stroke-width="1.0"/>
<text x="0" y="0" font-size="6.7" text-anchor="end" fill="#111" transform="translate(316.20 312.68) skewY(0.05) scale(1.200 1)" stroke="#111" stroke-width="0.35">16</text>
<line x1="320.00" y1="296.94" x2="323.20" y2="296.94" stroke="#111" stroke-width="1.0"/>
<text x="0" y="0" font-size="6.7" text-anchor="end" fill="#111" transform="translate(316.20 299.34) skewY(0.05) scale(1.200 1)" stroke="#111" stroke-width="0.35">18</text>
<line x1="323.20" y1="417.00" x2="323.20" y2="420.00" stroke="#111" stroke-width="1.1"/>
<line x1="341.00" y1="417.00" x2="341.00" y2="420.00" stroke="#111" stroke-width="1.1"/>
<line x1="360.07" y1="417.00" x2="360.07" y2="420.00" stroke="#111" stroke-width="1.1"/>
<line x1="379.14" y1="417.00" x2="379.14" y2="420.00" stroke="#111" stroke-width="1.1"/>
<line x1="398.21" y1="417.00" x2="398.21" y2="420.00" stroke="#111" stroke-width="1.1"/>
<line x1="417.28" y1="417.00" x2="417.28" y2="420.00" stroke="#111" stroke-width="1.1"/>
<line x1="436.35" y1="417.00" x2="436.35" y2="420.00" stroke="#111" stroke-width="1.1"/>
<line x1="455.42" y1="417.00" x2="455.42" y2="420.00" stroke="#111" stroke-width="1.1"/>
<line x1="474.49" y1="417.00" x2="474.49" y2="420.00" stroke="#111" stroke-width="1.1"/>
<line x1="493.56" y1="417.00" x2="493.56" y2="420.00" stroke="#111" stroke-width="1.1"/>
<text x="0" y="0" font-size="8.0" text-anchor="middle" fill="#111" transform="translate(294.20 356.00) rotate(-90) skewY(0.05) scale(0.940 1)" stroke="#111" stroke-width="0.3">Relative expression of miR33b</text>
<rect x="328.60" y="409.86" width="7.60" height="7.14" fill="#7e0303" stroke="#000" stroke-opacity="0.3" stroke-width="0.6"/>
<rect x="347.58" y="398.52" width="7.60" height="18.48" fill="#7e0303" stroke="#000" stroke-opacity="0.3" stroke-width="0.6"/>
<line x1="351.38" y1="398.32" x2="351.38" y2="397.66" stroke="#333" stroke-width="0.8"/>
<line x1="348.38" y1="397.66" x2="354.38" y2="397.66" stroke="#333" stroke-width="0.8"/>
<rect x="366.56" y="409.86" width="7.60" height="7.14" fill="#7e0303" stroke="#000" stroke-opacity="0.3" stroke-width="0.6"/>
<rect x="385.54" y="311.15" width="7.60" height="105.85" fill="#7e0303" stroke="#000" stroke-opacity="0.3" stroke-width="0.6"/>
<line x1="389.34" y1="310.95" x2="389.34" y2="307.61" stroke="#333" stroke-width="0.8"/>
<line x1="386.34" y1="307.61" x2="392.34" y2="307.61" stroke="#333" stroke-width="0.8"/>
<rect x="423.50" y="409.86" width="7.60" height="7.14" fill="#7e0303" stroke="#000" stroke-opacity="0.3" stroke-width="0.6"/>
<line x1="427.30" y1="409.66" x2="427.30" y2="409.00" stroke="#333" stroke-width="0.8"/>
<line x1="424.30" y1="409.00" x2="430.30" y2="409.00" stroke="#333" stroke-width="0.8"/>
<rect x="442.48" y="400.52" width="7.60" height="16.48" fill="#7e0303" stroke="#000" stroke-opacity="0.3" stroke-width="0.6"/>
<line x1="446.28" y1="400.32" x2="446.28" y2="399.52" stroke="#333" stroke-width="0.8"/>
<line x1="443.28" y1="399.52" x2="449.28" y2="399.52" stroke="#333" stroke-width="0.8"/>
<rect x="461.46" y="409.86" width="7.60" height="7.14" fill="#7e0303" stroke="#000" stroke-opacity="0.3" stroke-width="0.6"/>
<line x1="465.26" y1="409.66" x2="465.26" y2="409.00" stroke="#333" stroke-width="0.8"/>
<line x1="462.26" y1="409.00" x2="468.26" y2="409.00" stroke="#333" stroke-width="0.8"/>
<rect x="480.44" y="397.19" width="7.60" height="19.81" fill="#7e0303" stroke="#000" stroke-opacity="0.3" stroke-width="0.6"/>
<line x1="484.24" y1="396.99" x2="484.24" y2="396.19" stroke="#333" stroke-width="0.8"/>
<line x1="481.24" y1="396.19" x2="487.24" y2="396.19" stroke="#333" stroke-width="0.8"/>
<path d="M330.10 404.00 L330.10 368.20 L350.50 368.20 L350.50 390.30" fill="none" stroke="#1a1a1a" stroke-width="1.15"/>
<path d="M369.80 407.00 L369.80 285.90 L389.30 285.90 L389.30 294.70" fill="none" stroke="#1a1a1a" stroke-width="1.15"/>
<path d="M428.70 407.60 L428.70 368.50 L448.80 368.50 L448.80 389.60" fill="none" stroke="#1a1a1a" stroke-width="1.15"/>
<path d="M463.40 408.20 L463.40 368.50 L483.10 368.50 L483.10 381.20" fill="none" stroke="#1a1a1a" stroke-width="1.15"/>
<text x="0" y="0" font-size="7" font-weight="bold" text-anchor="middle" fill="#222" transform="translate(348.30 397.00) skewY(0.05)">***</text>
<text x="0" y="0" font-size="7" font-weight="bold" text-anchor="middle" fill="#222" transform="translate(389.20 303.00) skewY(0.05)">***</text>
<text x="0" y="0" font-size="7" font-weight="bold" text-anchor="middle" fill="#222" transform="translate(446.90 397.40) skewY(0.05)">***</text>
<text x="0" y="0" font-size="7" font-weight="bold" text-anchor="middle" fill="#222" transform="translate(482.80 389.40) skewY(0.05)">***</text>
<text x="0" y="0" font-size="7.8" text-anchor="end" fill="#111" transform="translate(327.00 431.30) rotate(-34) skewY(0.05)" stroke="#111" stroke-width="0.2">Control-3h</text>
<text x="0" y="0" font-size="7.8" text-anchor="end" fill="#111" transform="translate(345.98 431.30) rotate(-34) skewY(0.05)" stroke="#111" stroke-width="0.2">MLN9708-3h</text>
<text x="0" y="0" font-size="7.8" text-anchor="end" fill="#111" transform="translate(364.96 431.30) rotate(-34) skewY(0.05)" stroke="#111" stroke-width="0.2">Control-6h</text>
<text x="0" y="0" font-size="7.8" text-anchor="end" fill="#111" transform="translate(383.94 431.30) rotate(-34) skewY(0.05)" stroke="#111" stroke-width="0.2">MLN9708-6h</text>
<text x="0" y="0" font-size="7.8" text-anchor="end" fill="#111" transform="translate(421.90 431.30) rotate(-34) skewY(0.05)" stroke="#111" stroke-width="0.2">Control-3h</text>
<text x="0" y="0" font-size="7.8" text-anchor="end" fill="#111" transform="translate(440.88 431.30) rotate(-34) skewY(0.05)" stroke="#111" stroke-width="0.2">MLN9708-3h</text>
<text x="0" y="0" font-size="7.8" text-anchor="end" fill="#111" transform="translate(459.86 431.30) rotate(-34) skewY(0.05)" stroke="#111" stroke-width="0.2">Control-6h</text>
<text x="0" y="0" font-size="7.8" text-anchor="end" fill="#111" transform="translate(478.84 431.30) rotate(-34) skewY(0.05)" stroke="#111" stroke-width="0.2">MLN9708-6h</text>
<rect x="331.20" y="458.00" width="58.80" height="2.60" fill="#000"/>
<rect x="428.80" y="458.00" width="59.40" height="2.60" fill="#000"/>
<text x="0" y="0" font-size="7.3" text-anchor="middle" fill="#111" transform="translate(360.00 468.80) skewY(0.05)" stroke="#111" stroke-width="0.25">Ina6</text>
<text x="0" y="0" font-size="7.3" text-anchor="middle" fill="#111" transform="translate(457.10 468.80) skewY(0.05) scale(1.050 1)" stroke="#111" stroke-width="0.25">ANBL6</text>
<text x="0" y="0" font-size="13.4" font-weight="bold" text-anchor="start" fill="#000" transform="translate(3.00 485.60) skewY(0.05)" stroke="#000" stroke-width="0.35">E</text>
<line x1="67.40" y1="496.80" x2="67.40" y2="612.90" stroke="#111" stroke-width="1.2"/>
<line x1="66.80" y1="612.30" x2="211.00" y2="612.30" stroke="#111" stroke-width="1.2"/>
<line x1="64.40" y1="612.30" x2="67.40" y2="612.30" stroke="#111" stroke-width="1.0"/>
<text x="0" y="0" font-size="6.3" text-anchor="end" fill="#222" transform="translate(63.80 614.60) skewY(0.05) scale(1.080 1)" stroke="#222" stroke-width="0.18">0.00E+00</text>
<line x1="64.40" y1="598.00" x2="67.40" y2="598.00" stroke="#111" stroke-width="1.0"/>
<text x="0" y="0" font-size="6.3" text-anchor="end" fill="#222" transform="translate(63.80 600.30) skewY(0.05) scale(1.080 1)" stroke="#222" stroke-width="0.18">2.00E-07</text>
<line x1="64.40" y1="583.70" x2="67.40" y2="583.70" stroke="#111" stroke-width="1.0"/>
<text x="0" y="0" font-size="6.3" text-anchor="end" fill="#222" transform="translate(63.80 586.00) skewY(0.05) scale(1.080 1)" stroke="#222" stroke-width="0.18">4.00E-07</text>
<line x1="64.40" y1="569.40" x2="67.40" y2="569.40" stroke="#111" stroke-width="1.0"/>
<text x="0" y="0" font-size="6.3" text-anchor="end" fill="#222" transform="translate(63.80 571.70) skewY(0.05) scale(1.080 1)" stroke="#222" stroke-width="0.18">6.00E-07</text>
<line x1="64.40" y1="555.10" x2="67.40" y2="555.10" stroke="#111" stroke-width="1.0"/>
<text x="0" y="0" font-size="6.3" text-anchor="end" fill="#222" transform="translate(63.80 557.40) skewY(0.05) scale(1.080 1)" stroke="#222" stroke-width="0.18">8.00E-07</text>
<line x1="64.40" y1="540.80" x2="67.40" y2="540.80" stroke="#111" stroke-width="1.0"/>
<text x="0" y="0" font-size="6.3" text-anchor="end" fill="#222" transform="translate(63.80 543.10) skewY(0.05) scale(1.080 1)" stroke="#222" stroke-width="0.18">1.00E-06</text>
<line x1="64.40" y1="526.50" x2="67.40" y2="526.50" stroke="#111" stroke-width="1.0"/>
<text x="0" y="0" font-size="6.3" text-anchor="end" fill="#222" transform="translate(63.80 528.80) skewY(0.05) scale(1.080 1)" stroke="#222" stroke-width="0.18">1.20E-06</text>
<line x1="64.40" y1="512.20" x2="67.40" y2="512.20" stroke="#111" stroke-width="1.0"/>
<text x="0" y="0" font-size="6.3" text-anchor="end" fill="#222" transform="translate(63.80 514.50) skewY(0.05) scale(1.080 1)" stroke="#222" stroke-width="0.18">1.40E-06</text>
<line x1="64.40" y1="497.90" x2="67.40" y2="497.90" stroke="#111" stroke-width="1.0"/>
<text x="0" y="0" font-size="6.3" text-anchor="end" fill="#222" transform="translate(63.80 500.20) skewY(0.05) scale(1.080 1)" stroke="#222" stroke-width="0.18">1.60E-06</text>
<line x1="68.45" y1="612.30" x2="68.45" y2="614.50" stroke="#111" stroke-width="0.9"/>
<line x1="77.35" y1="612.30" x2="77.35" y2="614.50" stroke="#111" stroke-width="0.9"/>
<line x1="86.25" y1="612.30" x2="86.25" y2="614.50" stroke="#111" stroke-width="0.9"/>
<line x1="95.15" y1="612.30" x2="95.15" y2="614.50" stroke="#111" stroke-width="0.9"/>
<line x1="104.05" y1="612.30" x2="104.05" y2="614.50" stroke="#111" stroke-width="0.9"/>
<line x1="112.95" y1="612.30" x2="112.95" y2="614.50" stroke="#111" stroke-width="0.9"/>
<line x1="121.85" y1="612.30" x2="121.85" y2="614.50" stroke="#111" stroke-width="0.9"/>
<line x1="130.75" y1="612.30" x2="130.75" y2="614.50" stroke="#111" stroke-width="0.9"/>
<line x1="139.65" y1="612.30" x2="139.65" y2="614.50" stroke="#111" stroke-width="0.9"/>
<line x1="148.55" y1="612.30" x2="148.55" y2="614.50" stroke="#111" stroke-width="0.9"/>
<line x1="157.45" y1="612.30" x2="157.45" y2="614.50" stroke="#111" stroke-width="0.9"/>
<line x1="166.35" y1="612.30" x2="166.35" y2="614.50" stroke="#111" stroke-width="0.9"/>
<line x1="175.25" y1="612.30" x2="175.25" y2="614.50" stroke="#111" stroke-width="0.9"/>
<line x1="184.15" y1="612.30" x2="184.15" y2="614.50" stroke="#111" stroke-width="0.9"/>
<line x1="193.05" y1="612.30" x2="193.05" y2="614.50" stroke="#111" stroke-width="0.9"/>
<line x1="201.95" y1="612.30" x2="201.95" y2="614.50" stroke="#111" stroke-width="0.9"/>
<line x1="210.85" y1="612.30" x2="210.85" y2="614.50" stroke="#111" stroke-width="0.9"/>
<text x="0" y="0" font-size="6.5" font-weight="bold" text-anchor="start" fill="#000" transform="translate(19.50 629.00) rotate(-90) skewY(0.05) scale(1.160 1)" xml:space="preserve" stroke="#000" stroke-width="0.15">Expression  of miR-33b in patient and</text>
<text x="0" y="0" font-size="6.5" font-weight="bold" text-anchor="start" fill="#000" transform="translate(27.00 629.20) rotate(-90) skewY(0.05) scale(1.145 1)" stroke="#000" stroke-width="0.15">normal CD138+cells as well as PBMCs</text>
<rect x="88.15" y="606.37" width="5.10" height="5.93" fill="#7c0202" stroke="#000" stroke-opacity="0.3" stroke-width="0.5"/>
<line x1="90.70" y1="606.22" x2="90.70" y2="604.43" stroke="#333" stroke-width="0.8"/>
<line x1="88.40" y1="604.43" x2="93.00" y2="604.43" stroke="#333" stroke-width="0.8"/>
<rect x="123.75" y="590.86" width="5.10" height="21.44" fill="#7c0202" stroke="#000" stroke-opacity="0.3" stroke-width="0.5"/>
<line x1="126.30" y1="590.71" x2="126.30" y2="588.92" stroke="#333" stroke-width="0.8"/>
<line x1="124.00" y1="588.92" x2="128.60" y2="588.92" stroke="#333" stroke-width="0.8"/>
<rect x="132.65" y="581.85" width="5.10" height="30.45" fill="#7c0202" stroke="#000" stroke-opacity="0.3" stroke-width="0.5"/>
<line x1="135.20" y1="581.70" x2="135.20" y2="578.12" stroke="#333" stroke-width="0.8"/>
<line x1="132.90" y1="578.12" x2="137.50" y2="578.12" stroke="#333" stroke-width="0.8"/>
<rect x="141.55" y="586.28" width="5.10" height="26.02" fill="#7c0202" stroke="#000" stroke-opacity="0.3" stroke-width="0.5"/>
<line x1="144.10" y1="586.13" x2="144.10" y2="585.77" stroke="#333" stroke-width="0.8"/>
<line x1="141.80" y1="585.77" x2="146.40" y2="585.77" stroke="#333" stroke-width="0.8"/>
<rect x="159.35" y="555.75" width="5.10" height="56.55" fill="#7c0202" stroke="#000" stroke-opacity="0.3" stroke-width="0.5"/>
<line x1="161.90" y1="555.60" x2="161.90" y2="551.88" stroke="#333" stroke-width="0.8"/>
<line x1="159.60" y1="551.88" x2="164.20" y2="551.88" stroke="#333" stroke-width="0.8"/>
<rect x="168.25" y="570.62" width="5.10" height="41.68" fill="#7c0202" stroke="#000" stroke-opacity="0.3" stroke-width="0.5"/>
<line x1="170.80" y1="570.47" x2="170.80" y2="569.04" stroke="#333" stroke-width="0.8"/>
<line x1="168.50" y1="569.04" x2="173.10" y2="569.04" stroke="#333" stroke-width="0.8"/>
<rect x="177.15" y="514.92" width="5.10" height="97.38" fill="#7c0202" stroke="#000" stroke-opacity="0.3" stroke-width="0.5"/>
<line x1="179.70" y1="514.77" x2="179.70" y2="505.62" stroke="#333" stroke-width="0.8"/>
<line x1="177.40" y1="505.62" x2="182.00" y2="505.62" stroke="#333" stroke-width="0.8"/>
<rect x="186.05" y="568.69" width="5.10" height="43.61" fill="#7c0202" stroke="#000" stroke-opacity="0.3" stroke-width="0.5"/>
<line x1="188.60" y1="568.54" x2="188.60" y2="566.40" stroke="#333" stroke-width="0.8"/>
<line x1="186.30" y1="566.40" x2="190.90" y2="566.40" stroke="#333" stroke-width="0.8"/>
<rect x="194.95" y="567.55" width="5.10" height="44.75" fill="#7c0202" stroke="#000" stroke-opacity="0.3" stroke-width="0.5"/>
<line x1="197.50" y1="567.40" x2="197.50" y2="562.39" stroke="#333" stroke-width="0.8"/>
<line x1="195.20" y1="562.39" x2="199.80" y2="562.39" stroke="#333" stroke-width="0.8"/>
<rect x="203.85" y="560.83" width="5.10" height="51.47" fill="#7c0202" stroke="#000" stroke-opacity="0.3" stroke-width="0.5"/>
<line x1="206.40" y1="560.68" x2="206.40" y2="558.17" stroke="#333" stroke-width="0.8"/>
<line x1="204.10" y1="558.17" x2="208.70" y2="558.17" stroke="#333" stroke-width="0.8"/>
<text x="0" y="0" font-size="6.6" text-anchor="end" fill="#111" transform="translate(74.50 620.30) rotate(-76) skewY(0.05)" font-style="italic" stroke="#111" stroke-width="0.15">P1 CD138+</text>
<text x="0" y="0" font-size="6.6" text-anchor="end" fill="#111" transform="translate(83.40 620.30) rotate(-76) skewY(0.05)" font-style="italic" stroke="#111" stroke-width="0.15">P2 CD138+</text>
<text x="0" y="0" font-size="6.6" text-anchor="end" fill="#111" transform="translate(92.30 620.30) rotate(-76) skewY(0.05)" font-style="italic" stroke="#111" stroke-width="0.15">P3 CD138+</text>
<text x="0" y="0" font-size="6.6" text-anchor="end" fill="#111" transform="translate(101.20 620.30) rotate(-76) skewY(0.05)" font-style="italic" stroke="#111" stroke-width="0.15">P4 CD138+</text>
<text x="0" y="0" font-size="6.6" text-anchor="end" fill="#111" transform="translate(110.10 620.30) rotate(-76) skewY(0.05)" font-style="italic" stroke="#111" stroke-width="0.15">P5 CD138+</text>
<text x="0" y="0" font-size="6.6" text-anchor="end" fill="#111" transform="translate(127.90 620.30) rotate(-76) skewY(0.05)" font-style="italic" stroke="#111" stroke-width="0.15">Nor.1 CD138+</text>
<text x="0" y="0" font-size="6.6" text-anchor="end" fill="#111" transform="translate(136.80 620.30) rotate(-76) skewY(0.05)" font-style="italic" stroke="#111" stroke-width="0.15">Nor.2 CD138+</text>
<text x="0" y="0" font-size="6.6" text-anchor="end" fill="#111" transform="translate(145.70 620.30) rotate(-76) skewY(0.05)" font-style="italic" stroke="#111" stroke-width="0.15">Nor.3 CD138+</text>
<text x="0" y="0" font-size="6.6" text-anchor="end" fill="#111" transform="translate(163.50 620.30) rotate(-76) skewY(0.05)" font-style="italic" stroke="#111" stroke-width="0.15">PBMC1</text>
<text x="0" y="0" font-size="6.6" text-anchor="end" fill="#111" transform="translate(172.40 620.30) rotate(-76) skewY(0.05)" font-style="italic" stroke="#111" stroke-width="0.15">PBMC2</text>
<text x="0" y="0" font-size="6.6" text-anchor="end" fill="#111" transform="translate(181.30 620.30) rotate(-76) skewY(0.05)" font-style="italic" stroke="#111" stroke-width="0.15">PBMC3</text>
<text x="0" y="0" font-size="6.6" text-anchor="end" fill="#111" transform="translate(190.20 620.30) rotate(-76) skewY(0.05)" font-style="italic" stroke="#111" stroke-width="0.15">PBMC4</text>
<text x="0" y="0" font-size="6.6" text-anchor="end" fill="#111" transform="translate(199.10 620.30) rotate(-76) skewY(0.05)" font-style="italic" stroke="#111" stroke-width="0.15">PBMC5</text>
<text x="0" y="0" font-size="6.6" text-anchor="end" fill="#111" transform="translate(208.00 620.30) rotate(-76) skewY(0.05)" font-style="italic" stroke="#111" stroke-width="0.15">PBMC6</text>
<text x="0" y="0" font-size="13.8" font-weight="bold" text-anchor="start" fill="#000" transform="translate(243.30 485.00) skewY(0.05)" stroke="#000" stroke-width="0.35">F</text>
<line x1="295.00" y1="498.80" x2="295.00" y2="649.70" stroke="#111" stroke-width="1.4"/>
<line x1="294.40" y1="649.10" x2="515.00" y2="649.10" stroke="#111" stroke-width="1.4"/>
<line x1="291.80" y1="649.10" x2="295.00" y2="649.10" stroke="#111" stroke-width="1.1"/>
<text x="0" y="0" font-size="6.6" font-weight="bold" text-anchor="end" fill="#000" transform="translate(289.20 651.50) skewY(0.05) scale(1.350 1)">0</text>
<line x1="291.80" y1="619.10" x2="295.00" y2="619.10" stroke="#111" stroke-width="1.1"/>
<text x="0" y="0" font-size="6.6" font-weight="bold" text-anchor="end" fill="#000" transform="translate(289.20 621.50) skewY(0.05) scale(1.350 1)">0.5</text>
<line x1="291.80" y1="589.10" x2="295.00" y2="589.10" stroke="#111" stroke-width="1.1"/>
<text x="0" y="0" font-size="6.6" font-weight="bold" text-anchor="end" fill="#000" transform="translate(289.20 591.50) skewY(0.05) scale(1.350 1)">1</text>
<line x1="291.80" y1="559.10" x2="295.00" y2="559.10" stroke="#111" stroke-width="1.1"/>
<text x="0" y="0" font-size="6.6" font-weight="bold" text-anchor="end" fill="#000" transform="translate(289.20 561.50) skewY(0.05) scale(1.350 1)">1.5</text>
<line x1="291.80" y1="529.10" x2="295.00" y2="529.10" stroke="#111" stroke-width="1.1"/>
<text x="0" y="0" font-size="6.6" font-weight="bold" text-anchor="end" fill="#000" transform="translate(289.20 531.50) skewY(0.05) scale(1.350 1)">2</text>
<line x1="291.80" y1="499.10" x2="295.00" y2="499.10" stroke="#111" stroke-width="1.1"/>
<text x="0" y="0" font-size="6.6" font-weight="bold" text-anchor="end" fill="#000" transform="translate(289.20 501.50) skewY(0.05) scale(1.350 1)">2.5</text>
<line x1="295.00" y1="649.10" x2="295.00" y2="652.10" stroke="#111" stroke-width="1.1"/>
<line x1="369.30" y1="649.10" x2="369.30" y2="652.10" stroke="#111" stroke-width="1.1"/>
<line x1="442.50" y1="649.10" x2="442.50" y2="652.10" stroke="#111" stroke-width="1.1"/>
<line x1="514.60" y1="649.10" x2="514.60" y2="652.10" stroke="#111" stroke-width="1.1"/>
<text x="0" y="0" font-size="7.3" font-weight="bold" text-anchor="start" fill="#000" transform="translate(271.90 634.60) rotate(-90) skewY(0.05) scale(1.285 1)">Relative expression of miR-33b</text>
<rect x="304.20" y="589.10" width="11.20" height="60.00" fill="#6c0404"/>
<line x1="304.20" y1="589.50" x2="315.40" y2="589.50" stroke="#000" stroke-width="0.8" stroke-opacity="0.35"/>
<line x1="309.80" y1="589.10" x2="309.80" y2="588.50" stroke="#333" stroke-width="0.9"/>
<line x1="307.30" y1="588.50" x2="312.30" y2="588.50" stroke="#333" stroke-width="0.9"/>
<rect x="315.40" y="521.90" width="11.20" height="127.20" fill="#3a6a22"/>
<line x1="315.40" y1="522.30" x2="326.60" y2="522.30" stroke="#000" stroke-width="0.8" stroke-opacity="0.35"/>
<line x1="321.00" y1="521.90" x2="321.00" y2="518.30" stroke="#333" stroke-width="0.9"/>
<line x1="318.50" y1="518.30" x2="323.50" y2="518.30" stroke="#333" stroke-width="0.9"/>
<rect x="326.60" y="591.32" width="11.20" height="57.78" fill="#0000d2"/>
<line x1="326.60" y1="591.72" x2="337.80" y2="591.72" stroke="#000" stroke-width="0.8" stroke-opacity="0.35"/>
<line x1="332.20" y1="591.32" x2="332.20" y2="585.92" stroke="#333" stroke-width="0.9"/>
<line x1="329.70" y1="585.92" x2="334.70" y2="585.92" stroke="#333" stroke-width="0.9"/>
<rect x="337.80" y="592.28" width="11.20" height="56.82" fill="#e4701e"/>
<line x1="337.80" y1="592.68" x2="349.00" y2="592.68" stroke="#000" stroke-width="0.8" stroke-opacity="0.35"/>
<line x1="343.40" y1="592.28" x2="343.40" y2="587.18" stroke="#333" stroke-width="0.9"/>
<line x1="340.90" y1="587.18" x2="345.90" y2="587.18" stroke="#333" stroke-width="0.9"/>
<rect x="349.00" y="593.90" width="11.20" height="55.20" fill="#e612f0"/>
<line x1="349.00" y1="594.30" x2="360.20" y2="594.30" stroke="#000" stroke-width="0.8" stroke-opacity="0.35"/>
<line x1="354.60" y1="593.90" x2="354.60" y2="588.50" stroke="#333" stroke-width="0.9"/>
<line x1="352.10" y1="588.50" x2="357.10" y2="588.50" stroke="#333" stroke-width="0.9"/>
<rect x="377.35" y="589.10" width="11.20" height="60.00" fill="#6c0404"/>
<line x1="377.35" y1="589.50" x2="388.55" y2="589.50" stroke="#000" stroke-width="0.8" stroke-opacity="0.35"/>
<line x1="382.95" y1="589.10" x2="382.95" y2="585.80" stroke="#333" stroke-width="0.9"/>
<line x1="380.45" y1="585.80" x2="385.45" y2="585.80" stroke="#333" stroke-width="0.9"/>
<rect x="388.55" y="520.70" width="11.20" height="128.40" fill="#3a6a22"/>
<line x1="388.55" y1="521.10" x2="399.75" y2="521.10" stroke="#000" stroke-width="0.8" stroke-opacity="0.35"/>
<line x1="394.15" y1="520.70" x2="394.15" y2="512.90" stroke="#333" stroke-width="0.9"/>
<line x1="391.65" y1="512.90" x2="396.65" y2="512.90" stroke="#333" stroke-width="0.9"/>
<rect x="399.75" y="590.00" width="11.20" height="59.10" fill="#0000d2"/>
<line x1="399.75" y1="590.40" x2="410.95" y2="590.40" stroke="#000" stroke-width="0.8" stroke-opacity="0.35"/>
<line x1="405.35" y1="590.00" x2="405.35" y2="583.40" stroke="#333" stroke-width="0.9"/>
<line x1="402.85" y1="583.40" x2="407.85" y2="583.40" stroke="#333" stroke-width="0.9"/>
<rect x="410.95" y="588.50" width="11.20" height="60.60" fill="#e4701e"/>
<line x1="410.95" y1="588.90" x2="422.15" y2="588.90" stroke="#000" stroke-width="0.8" stroke-opacity="0.35"/>
<line x1="416.55" y1="588.50" x2="416.55" y2="581.30" stroke="#333" stroke-width="0.9"/>
<line x1="414.05" y1="581.30" x2="419.05" y2="581.30" stroke="#333" stroke-width="0.9"/>
<rect x="422.15" y="587.30" width="11.20" height="61.80" fill="#e612f0"/>
<line x1="422.15" y1="587.70" x2="433.35" y2="587.70" stroke="#000" stroke-width="0.8" stroke-opacity="0.35"/>
<line x1="427.75" y1="587.30" x2="427.75" y2="581.90" stroke="#333" stroke-width="0.9"/>
<line x1="425.25" y1="581.90" x2="430.25" y2="581.90" stroke="#333" stroke-width="0.9"/>
<rect x="450.50" y="589.70" width="11.20" height="59.40" fill="#6c0404"/>
<line x1="450.50" y1="590.10" x2="461.70" y2="590.10" stroke="#000" stroke-width="0.8" stroke-opacity="0.35"/>
<line x1="456.10" y1="589.70" x2="456.10" y2="585.50" stroke="#333" stroke-width="0.9"/>
<line x1="453.60" y1="585.50" x2="458.60" y2="585.50" stroke="#333" stroke-width="0.9"/>
<rect x="461.70" y="545.90" width="11.20" height="103.20" fill="#3a6a22"/>
<line x1="461.70" y1="546.30" x2="472.90" y2="546.30" stroke="#000" stroke-width="0.8" stroke-opacity="0.35"/>
<line x1="467.30" y1="545.90" x2="467.30" y2="539.90" stroke="#333" stroke-width="0.9"/>
<line x1="464.80" y1="539.90" x2="469.80" y2="539.90" stroke="#333" stroke-width="0.9"/>
<rect x="472.90" y="588.50" width="11.20" height="60.60" fill="#0000d2"/>
<line x1="472.90" y1="588.90" x2="484.10" y2="588.90" stroke="#000" stroke-width="0.8" stroke-opacity="0.35"/>
<line x1="478.50" y1="588.50" x2="478.50" y2="586.40" stroke="#333" stroke-width="0.9"/>
<line x1="476.00" y1="586.40" x2="481.00" y2="586.40" stroke="#333" stroke-width="0.9"/>
<rect x="484.10" y="594.80" width="11.20" height="54.30" fill="#e4701e"/>
<line x1="484.10" y1="595.20" x2="495.30" y2="595.20" stroke="#000" stroke-width="0.8" stroke-opacity="0.35"/>
<line x1="489.70" y1="594.80" x2="489.70" y2="592.40" stroke="#333" stroke-width="0.9"/>
<line x1="487.20" y1="592.40" x2="492.20" y2="592.40" stroke="#333" stroke-width="0.9"/>
<rect x="495.30" y="584.90" width="11.20" height="64.20" fill="#e612f0"/>
<line x1="495.30" y1="585.30" x2="506.50" y2="585.30" stroke="#000" stroke-width="0.8" stroke-opacity="0.35"/>
<line x1="500.90" y1="584.90" x2="500.90" y2="579.50" stroke="#333" stroke-width="0.9"/>
<line x1="498.40" y1="579.50" x2="503.40" y2="579.50" stroke="#333" stroke-width="0.9"/>
<text x="0" y="0" font-size="7.5" font-weight="bold" text-anchor="middle" fill="#000" transform="translate(332.20 663.00) skewY(0.05) scale(1.150 1)">3h</text>
<text x="0" y="0" font-size="7.5" font-weight="bold" text-anchor="middle" fill="#000" transform="translate(405.35 663.00) skewY(0.05) scale(1.150 1)">6h</text>
<text x="0" y="0" font-size="7.5" font-weight="bold" text-anchor="middle" fill="#000" transform="translate(478.50 663.00) skewY(0.05) scale(1.150 1)">24h</text>
<rect x="422.10" y="496.65" width="3.90" height="3.50" fill="#6c0404"/>
<text x="0" y="0" font-size="5.0" font-weight="bold" text-anchor="start" fill="#000" transform="translate(426.90 500.10) skewY(0.05) scale(1.200 1)">Control</text>
<rect x="422.10" y="502.28" width="3.90" height="3.50" fill="#3a6a22"/>
<text x="0" y="0" font-size="5.0" font-weight="bold" text-anchor="start" fill="#000" transform="translate(426.90 505.73) skewY(0.05) scale(1.200 1)">MLN9708(12nM)</text>
<rect x="422.10" y="507.91" width="3.90" height="3.50" fill="#0000d2"/>
<text x="0" y="0" font-size="5.0" font-weight="bold" text-anchor="start" fill="#000" transform="translate(426.90 511.36) skewY(0.05) scale(1.200 1)">Dexamethasone (30nM)</text>
<rect x="422.10" y="513.54" width="3.90" height="3.50" fill="#e4701e"/>
<text x="0" y="0" font-size="5.0" font-weight="bold" text-anchor="start" fill="#000" transform="translate(426.90 516.99) skewY(0.05) scale(1.200 1)">SAHA (160nM)</text>
<rect x="422.10" y="519.17" width="3.90" height="3.50" fill="#e612f0"/>
<text x="0" y="0" font-size="5.0" font-weight="bold" text-anchor="start" fill="#000" transform="translate(426.90 522.62) skewY(0.05) scale(1.200 1)">Lenalidomide(7μM)</text>
</g>
</svg>
</body></html>
